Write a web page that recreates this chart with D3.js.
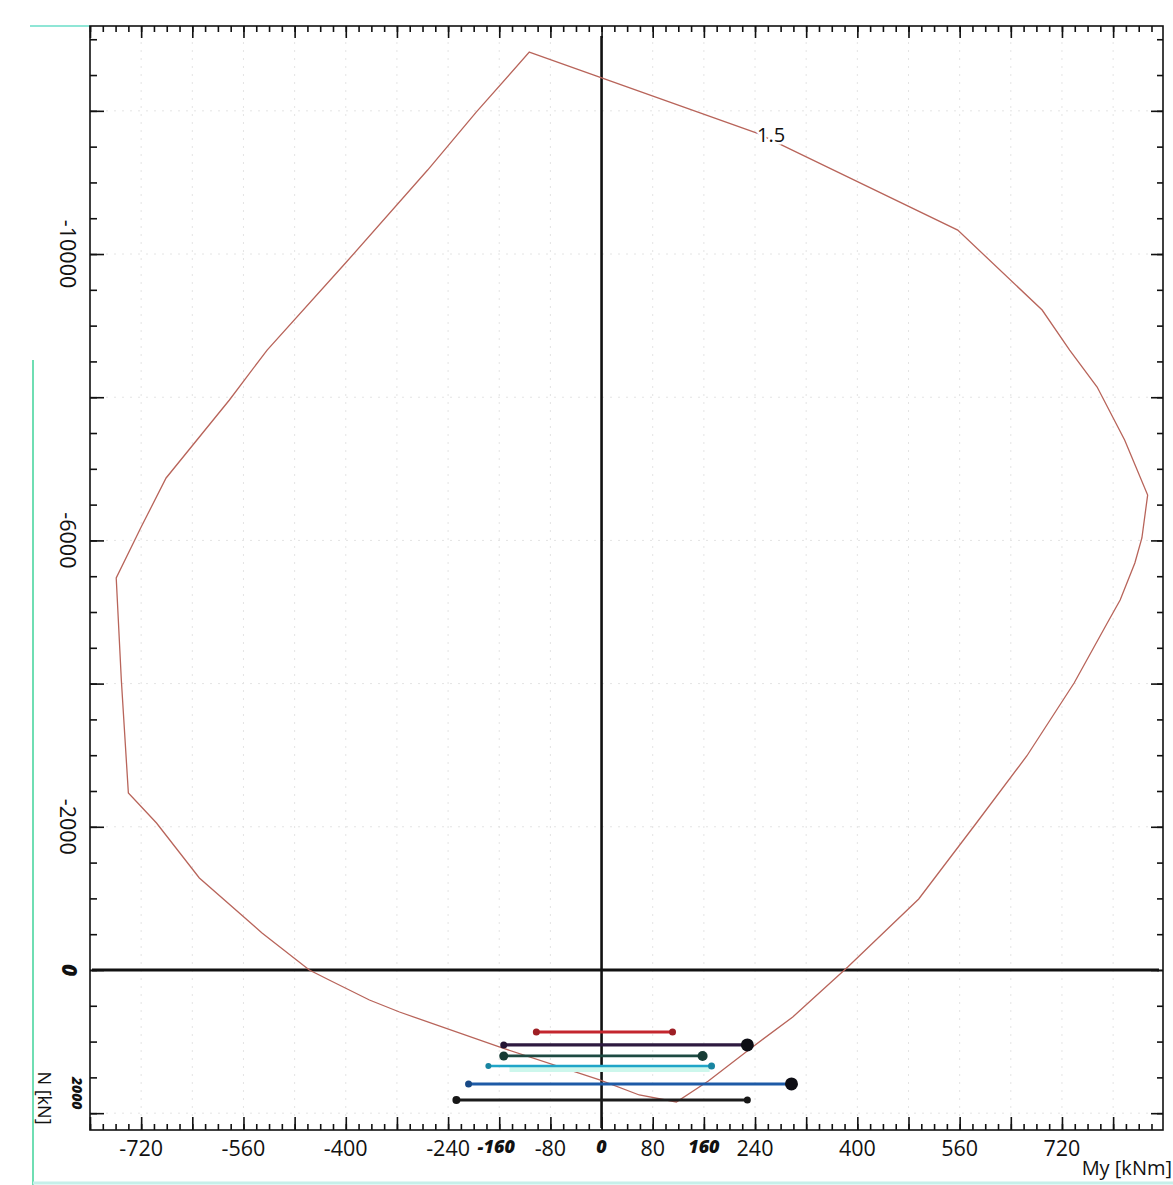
<!DOCTYPE html>
<html>
<head>
<meta charset="utf-8">
<script src="https://cdn.jsdelivr.net/npm/d3@7/dist/d3.min.js"></script>
<style>
    html, body { margin: 0; padding: 0; background: #fff; }
    svg { display: block; font-family: 'Open Sans', 'Noto Sans', sans-serif; }
    .hand { font-family: 'Noto Sans', sans-serif; font-weight: 900; font-style: italic; }
</style>
</head>
<body>
<div id="chart"></div>
<script>
'use strict';

// interaction curve My [kNm] / N [kN], clockwise from the top
const curveMy = [-113, 243, 557, 689, 732, 775, 818, 854, 845, 834, 811, 790, 739, 665, 585, 496,
    385, 299, 232, 167, 117, 59, -3, -160, -316, -363, -426, -457, -531, -629, -696, -740,
    -751, -759, -720, -681, -582, -523, -399, -272, -196];
const curveN = [-12820, -11690, -10335, -9218, -8659, -8142, -7402, -6634, -6034, -5684, -5168,
    -4832, -4008, -2989, -2039, -992, -42, 656, 1103, 1550, 1844, 1746, 1536, 1075, 587, 419,
    140, 0, -517, -1285, -2053, -2472, -4050, -5475, -6187, -6872, -7961, -8659, -9888, -11173, -11983];
const curveLabel = '1.5';

// hand-drawn load ranges
const segNames = ['red', 'purple', 'green', 'cyan', 'blue', 'black'];
const segStart = [-102, -153, -153, -177, -208, -227];
const segEnd = [111, 228, 158, 172, 297, 228];
const segN = [866, 1047, 1201, 1341, 1592, 1816];
const highlightMy = [-144, 169];

// tick labels
const xLabels = [-720, -560, -400, -240, -80, 80, 240, 400, 560, 720];
const xHandLabels = [-160, 0, 160];
const yLabels = [-10000, -6000, -2000];
const yHandLabels = [0, 2000];

const W = 1173, H = 1185;
const frame = { left: 90, right: 1163, top: 26, bottom: 1130 };

const segStyle = {
    red:    { color: '#c4262e', r: [3.5, 3.5], w: 2.8 },
    purple: { color: '#2e1a40', r: [3.5, 6.5], w: 3.2 },
    green:  { color: '#1d4a42', r: [4.5, 5], w: 2.8 },
    cyan:   { color: '#1fa5c8', r: [3, 3.5], w: 2.6 },
    blue:   { color: '#1d5aa6', r: [3.5, 6.5], w: 3 },
    black:  { color: '#1c1c1c', r: [4, 3.5], w: 3 }
};

const x = d3.scaleLinear().domain([-800, 878]).range([frame.left, frame.right]);
const y = d3.scaleLinear().domain([-13185, 2235]).range([frame.top, frame.bottom]);

const xMinor = d3.range(-800, 879, 20);
const xMajor = d3.range(-800, 879, 80);
const yMinor = d3.range(-13000, 2236, 500);
const yMajor = d3.range(-12000, 2236, 2000);

const svg = d3.select('#chart').append('svg')
    .attr('width', W)
    .attr('height', H)
    .attr('viewBox', `0 0 ${W} ${H}`);

svg.append('rect')
    .attr('width', W)
    .attr('height', H)
    .attr('fill', '#fff');

// scan edges
svg.append('line')
    .attr('x1', 33).attr('x2', 33)
    .attr('y1', 360).attr('y2', H)
    .attr('stroke', '#3fd39a')
    .attr('stroke-width', 1.5);
svg.append('line')
    .attr('x1', 30).attr('x2', frame.left)
    .attr('y1', frame.top).attr('y2', frame.top)
    .attr('stroke', '#8fe6d6')
    .attr('stroke-width', 2);
svg.append('line')
    .attr('x1', 33).attr('x2', W)
    .attr('y1', H - 2).attr('y2', H - 2)
    .attr('stroke', '#c6f0ea')
    .attr('stroke-width', 3);

// grid
const grid = svg.append('g')
    .attr('stroke', '#e4e4e4')
    .attr('stroke-width', 1)
    .attr('stroke-dasharray', '2,6');

grid.selectAll('.gx')
    .data(xMajor.filter(v => v > -800))
    .join('line')
    .attr('x1', d => x(d)).attr('x2', d => x(d))
    .attr('y1', frame.top).attr('y2', frame.bottom);

grid.selectAll('.gy')
    .data(yMajor)
    .join('line')
    .attr('x1', frame.left).attr('x2', frame.right)
    .attr('y1', d => y(d)).attr('y2', d => y(d));

// frame
svg.append('rect')
    .attr('x', frame.left)
    .attr('y', frame.top)
    .attr('width', frame.right - frame.left)
    .attr('height', frame.bottom - frame.top)
    .attr('fill', 'none')
    .attr('stroke', '#111')
    .attr('stroke-width', 1.6);

function styleTicks(g) {
    g.select('.domain').remove();
    g.selectAll('.tick line').attr('stroke', '#111').attr('stroke-width', 1.6);
}

// bottom + top ticks
svg.append('g')
    .attr('transform', `translate(0, ${frame.bottom})`)
    .call(d3.axisBottom(x).tickValues(xMinor).tickSize(-6).tickFormat(''))
    .call(styleTicks);
svg.append('g')
    .attr('transform', `translate(0, ${frame.bottom})`)
    .call(d3.axisBottom(x).tickValues(xMajor).tickSize(-13).tickFormat(''))
    .call(styleTicks);
svg.append('g')
    .attr('transform', `translate(0, ${frame.top})`)
    .call(d3.axisTop(x).tickValues(xMinor).tickSize(-6).tickFormat(''))
    .call(styleTicks);
svg.append('g')
    .attr('transform', `translate(0, ${frame.top})`)
    .call(d3.axisTop(x).tickValues(xMajor).tickSize(-12).tickFormat(''))
    .call(styleTicks);

// left + right ticks
svg.append('g')
    .attr('transform', `translate(${frame.left}, 0)`)
    .call(d3.axisLeft(y).tickValues(yMinor).tickSize(-7).tickFormat(''))
    .call(styleTicks);
svg.append('g')
    .attr('transform', `translate(${frame.left}, 0)`)
    .call(d3.axisLeft(y).tickValues(yMajor).tickSize(-14).tickFormat(''))
    .call(styleTicks);
svg.append('g')
    .attr('transform', `translate(${frame.right}, 0)`)
    .call(d3.axisRight(y).tickValues(yMinor).tickSize(-6).tickFormat(''))
    .call(styleTicks);
svg.append('g')
    .attr('transform', `translate(${frame.right}, 0)`)
    .call(d3.axisRight(y).tickValues(yMajor).tickSize(-12).tickFormat(''))
    .call(styleTicks);

// x labels
svg.append('g')
    .selectAll('text')
    .data(xLabels)
    .join('text')
    .attr('x', d => x(d))
    .attr('y', frame.bottom + 26)
    .attr('text-anchor', 'middle')
    .attr('font-size', 21.5)
    .attr('fill', '#111')
    .text(d => d);

svg.append('g')
    .attr('class', 'hand')
    .selectAll('text')
    .data(xHandLabels)
    .join('text')
    .attr('x', d => x(d) + (d < 0 ? -3 : 0))
    .attr('y', frame.bottom + 23)
    .attr('text-anchor', 'middle')
    .attr('font-size', d => d === 0 ? 18 : 18)
    .attr('fill', '#111')
    .text(d => d);

// y labels (rotated)
svg.append('g')
    .selectAll('text')
    .data(yLabels)
    .join('text')
    .attr('transform', d => `translate(60, ${y(d)}) rotate(90)`)
    .attr('text-anchor', 'middle')
    .attr('font-size', 21.5)
    .attr('fill', '#111')
    .text(d => d);

svg.append('g')
    .attr('class', 'hand')
    .selectAll('text')
    .data(yHandLabels)
    .join('text')
    .attr('transform', d => d === 0
        ? `translate(62, ${y(d)}) rotate(90)`
        : `translate(72, ${y(d) - 20}) rotate(90)`)
    .attr('text-anchor', 'middle')
    .attr('font-size', d => d === 0 ? 21 : 14)
    .attr('fill', '#111')
    .text(d => d);

// axis titles
svg.append('text')
    .attr('transform', `translate(38, ${frame.bottom - 32}) rotate(90)`)
    .attr('text-anchor', 'middle')
    .attr('font-size', 18)
    .attr('fill', '#111')
    .text('N [kN]');

svg.append('text')
    .attr('x', W - 1)
    .attr('y', frame.bottom + 45)
    .attr('text-anchor', 'end')
    .attr('font-size', 20)
    .attr('fill', '#111')
    .text('My [kNm]');

// zero axes
svg.append('line')
    .attr('x1', x(0)).attr('x2', x(0))
    .attr('y1', frame.top + 10).attr('y2', frame.bottom - 2)
    .attr('stroke', '#111')
    .attr('stroke-width', 2.6);
svg.append('line')
    .attr('x1', frame.left + 2).attr('x2', frame.right - 4)
    .attr('y1', y(0)).attr('y2', y(0))
    .attr('stroke', '#111')
    .attr('stroke-width', 2.8);

// interaction curve
const curvePts = curveMy.map((m, i) => [m, curveN[i]]);
svg.append('path')
    .datum(curvePts)
    .attr('d', d3.line().x(d => x(d[0])).y(d => y(d[1])).curve(d3.curveLinearClosed))
    .attr('fill', 'none')
    .attr('stroke', '#b8645a')
    .attr('stroke-width', 1.3);

svg.append('text')
    .attr('x', x(265))
    .attr('y', y(-11560))
    .attr('text-anchor', 'middle')
    .attr('font-size', 20)
    .attr('fill', '#111')
    .attr('stroke', '#fff')
    .attr('stroke-width', 5)
    .attr('paint-order', 'stroke')
    .text(curveLabel);

// highlighter band under cyan range
const cyanN = segN[segNames.indexOf('cyan')];
svg.append('rect')
    .attr('x', x(highlightMy[0]))
    .attr('y', y(cyanN) + 1)
    .attr('width', x(highlightMy[1]) - x(highlightMy[0]))
    .attr('height', 5)
    .attr('fill', '#cdf7ec');

// load ranges
const segs = svg.append('g')
    .selectAll('g')
    .data(segNames.map((name, i) => ({ name, a: segStart[i], b: segEnd[i], n: segN[i] })))
    .join('g');

segs.append('line')
    .attr('x1', d => x(d.a)).attr('x2', d => x(d.b))
    .attr('y1', d => y(d.n)).attr('y2', d => y(d.n))
    .attr('stroke', d => segStyle[d.name].color)
    .attr('stroke-width', d => segStyle[d.name].w)
    .attr('stroke-linecap', 'round');

segs.append('circle')
    .attr('cx', d => x(d.a))
    .attr('cy', d => y(d.n))
    .attr('r', d => segStyle[d.name].r[0])
    .attr('fill', d => d3.color(segStyle[d.name].color).darker(0.6));

segs.append('circle')
    .attr('cx', d => x(d.b))
    .attr('cy', d => y(d.n))
    .attr('r', d => segStyle[d.name].r[1])
    .attr('fill', d => segStyle[d.name].r[1] > 5 ? '#0d0d14' : d3.color(segStyle[d.name].color).darker(0.6));
</script>
</body>
</html>
